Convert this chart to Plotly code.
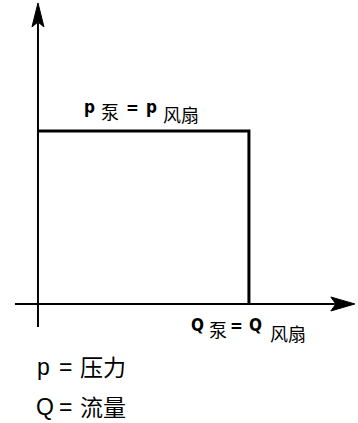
import plotly.graph_objects as go

W, H = 358, 423

# conceptual operating point (pump = fan)
Q_point = [1.0]          # Q泵 = Q风扇
p_point = [1.0]          # p泵 = p风扇
x_axis_span = [-0.109, 1.502]   # horizontal axis extent (flow)
y_axis_span = [-0.133, 1.740]   # vertical axis extent (pressure)
x_range = [-0.18, 1.517]
y_range = [-0.688, 1.757]

sx = W / (x_range[1] - x_range[0])   # px per unit
sy = H / (y_range[1] - y_range[0])

def px(v):
    return v / sx

def py(v):
    return v / sy

fig = go.Figure()

# axes
fig.add_trace(go.Scatter(x=[x_axis_span[0], x_axis_span[1] - px(20)], y=[0, 0], mode="lines",
                         line=dict(color="black", width=2), hoverinfo="skip"))
fig.add_trace(go.Scatter(x=[0, 0], y=[y_axis_span[0], y_axis_span[1] - py(20)], mode="lines",
                         line=dict(color="black", width=2), hoverinfo="skip"))

# arrowheads (horizontal and vertical)
xt = x_axis_span[1]
fig.add_trace(go.Scatter(
    x=[xt, xt - px(24), xt - px(19), xt - px(24), xt],
    y=[0, py(7), 0, -py(7), 0],
    mode="lines", fill="toself", fillcolor="black",
    line=dict(color="black", width=1), hoverinfo="skip"))
yt = y_axis_span[1]
fig.add_trace(go.Scatter(
    x=[0, -px(6), 0, px(6), 0],
    y=[yt, yt - py(24), yt - py(19), yt - py(24), yt],
    mode="lines", fill="toself", fillcolor="black",
    line=dict(color="black", width=1), hoverinfo="skip"))

# operating rectangle
fig.add_trace(go.Scatter(
    x=[0, Q_point[0], Q_point[0]], y=[p_point[0], p_point[0], 0],
    mode="lines", line=dict(color="black", width=3), hoverinfo="skip"))

bold_font = dict(family="DejaVu Sans Condensed, Liberation Sans Narrow, Liberation Sans", size=17, color="black")
cjk_font = dict(family="Noto Sans CJK SC, sans-serif", size=18, color="black")

def ann(text, x, y, font, anchor="center"):
    fig.add_annotation(text=text, x=x / W, y=1 - y / H, xref="paper", yref="paper",
                       showarrow=False, xanchor=anchor, yanchor="middle", font=font)

# top label: p泵 = p风扇
ann("<b>p</b>", 89.5, 107, bold_font)
ann("泵", 110, 110.5, cjk_font)
ann("<b>=</b>", 132, 108, bold_font)
ann("<b>p</b>", 151, 107, bold_font)
ann("风扇", 181, 113.5, cjk_font)

# bottom label: Q泵 = Q风扇
ann("<b>Q</b>", 197, 325, bold_font)
ann("泵", 218, 328.5, cjk_font)
ann("<b>=</b>", 236, 326, bold_font)
ann("<b>Q</b>", 255, 325, bold_font)
ann("风扇", 288, 332.5, cjk_font)

legend_font = dict(family="Liberation Sans, Noto Sans CJK SC, sans-serif", size=23, color="black")
ann("p", 35, 367, legend_font, anchor="left")
ann("=", 65, 367, legend_font)
ann("压力", 78, 368, legend_font, anchor="left")
ann("Q", 34, 407, legend_font, anchor="left")
ann("=", 65.5, 407, legend_font)
ann("流量", 78, 408, legend_font, anchor="left")

fig.update_layout(
    width=W, height=H, margin=dict(l=0, r=0, t=0, b=0),
    paper_bgcolor="white", plot_bgcolor="white", showlegend=False,
    xaxis=dict(range=x_range, visible=False, fixedrange=True),
    yaxis=dict(range=y_range, visible=False, fixedrange=True),
)

fig.write_html("out.html", config={"displayModeBar": False},
               post_script="document.body.style.margin='0';document.body.style.overflow='hidden';")
